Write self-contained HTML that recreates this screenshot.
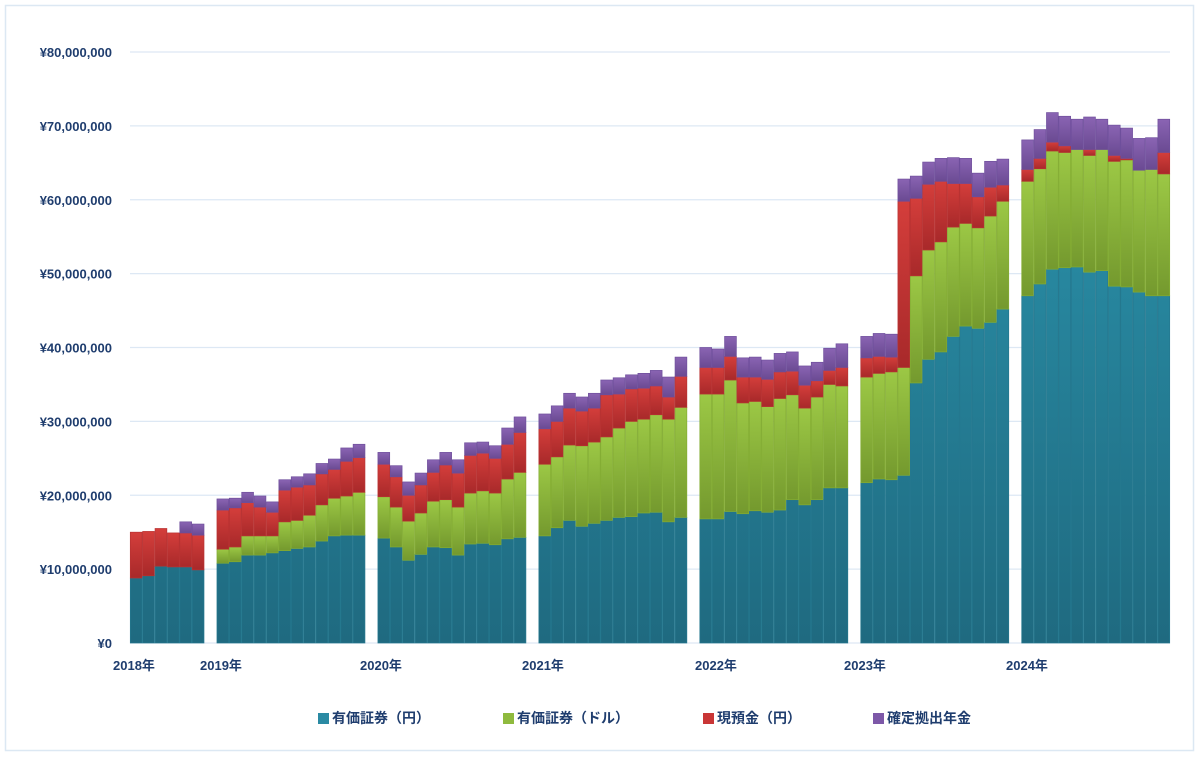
<!DOCTYPE html>
<html><head><meta charset="utf-8"><style>
body{margin:0;background:#fff;}
svg text{font-family:"Liberation Sans","Noto Sans CJK JP",sans-serif;font-weight:bold;fill:#1f3d6e;}
</style></head><body>
<svg id="chart" width="1200" height="757" xmlns="http://www.w3.org/2000/svg">
<defs>
<linearGradient id="gBlue" gradientUnits="userSpaceOnUse" x1="0" y1="100" x2="0" y2="643"><stop offset="0" stop-color="#2b94ad"/><stop offset="1" stop-color="#1f6a80"/></linearGradient>
<linearGradient id="gGreen" x1="0" y1="0" x2="0" y2="1"><stop offset="0" stop-color="#9cc845"/><stop offset="1" stop-color="#74992e"/></linearGradient>
<linearGradient id="gRed" x1="0" y1="0" x2="0" y2="1"><stop offset="0" stop-color="#d43e3b"/><stop offset="1" stop-color="#a8292a"/></linearGradient>
<linearGradient id="gPurple" x1="0" y1="0" x2="0" y2="1"><stop offset="0" stop-color="#8a64b3"/><stop offset="1" stop-color="#6a4a92"/></linearGradient>
</defs>
<rect x="5.5" y="5.5" width="1188" height="745" fill="#fff" stroke="#dce8f3" stroke-width="1.5"/>
<g id="grid"></g><g id="bars"></g><g id="axes"></g>
<g font-size="14">
<g><rect x="318" y="713" width="11" height="11" fill="#2a8aa3"/><text x="332" y="723" font-size="14">有価証券（円）</text></g>
<g><rect x="503" y="713" width="11" height="11" fill="#8fba3e"/><text x="517" y="723" font-size="14">有価証券（ドル）</text></g>
<g><rect x="703" y="713" width="11" height="11" fill="#c93636"/><text x="717" y="723" font-size="14">現預金（円）</text></g>
<g><rect x="873" y="713" width="11" height="11" fill="#7d58a8"/><text x="887" y="723" font-size="14">確定拠出年金</text></g>
</g>
</svg>
<script>
const years = ["2018年","2019年","2020年","2021年","2022年","2023年","2024年"];
const monthsPerYear = [6,12,12,12,12,12,12];
const yearLabelX = [113,200,360,522,695,844,1006];
const yTicks = [0,10,20,30,40,50,60,70,80];
const yTickLabels = ["¥0","¥10,000,000","¥20,000,000","¥30,000,000","¥40,000,000","¥50,000,000","¥60,000,000","¥70,000,000","¥80,000,000"];
// values in millions of yen
const jpySec = [8.8,9.1,10.4,10.3,10.3,9.9,
10.8,11.0,11.9,11.9,12.2,12.5,12.8,13.0,13.8,14.5,14.6,14.6,
14.2,13.0,11.2,12.0,13.0,12.9,11.9,13.4,13.5,13.3,14.1,14.3,
14.5,15.6,16.6,15.8,16.2,16.6,17.0,17.1,17.6,17.7,16.4,17.0,
16.8,16.8,17.8,17.5,17.9,17.7,18.0,19.4,18.7,19.4,21.0,21.0,
21.7,22.2,22.1,22.7,35.2,38.4,39.4,41.5,42.9,42.6,43.4,45.2,
47.0,48.6,50.6,50.8,50.9,50.2,50.4,48.3,48.2,47.5,47.0,47.0];
const usdSec = [0,0,0,0,0,0,
1.9,2.0,2.6,2.6,2.3,3.9,3.8,4.3,4.9,5.1,5.3,5.8,
5.6,5.4,5.3,5.6,6.2,6.5,6.5,6.9,7.1,7.0,8.1,8.8,
9.7,9.6,10.2,10.9,11.0,11.3,12.1,12.9,12.7,13.2,13.9,14.9,
16.9,16.9,17.8,15.0,14.8,14.3,15.1,14.2,13.1,13.9,14.0,13.8,
14.3,14.3,14.6,14.6,14.5,14.8,14.9,14.8,13.9,13.6,14.4,14.6,
15.5,15.6,16.0,15.6,15.9,15.8,16.4,16.9,17.2,16.5,17.1,16.5];
const cash = [6.2,6.0,5.1,4.6,4.6,4.7,
5.3,5.3,4.5,3.9,3.2,4.3,4.5,4.1,4.2,3.9,4.7,4.7,
4.4,4.1,3.5,3.8,3.9,4.7,4.6,5.1,5.1,4.7,4.7,5.4,
4.8,4.8,5.0,4.7,4.6,5.7,4.6,4.4,4.2,3.9,3.0,4.2,
3.6,3.6,3.2,3.5,3.3,3.7,3.6,3.2,3.1,2.2,1.9,2.5,
2.6,2.3,2.0,22.5,10.5,8.9,8.2,5.9,5.4,4.2,3.9,2.2,
1.6,1.4,1.2,0.9,0,0.8,0,0.8,0.2,0,0,2.9];
const dcPension = [0,0,0,0,1.5,1.5,
1.5,1.3,1.4,1.5,1.4,1.4,1.4,1.5,1.4,1.4,1.8,1.8,
1.6,1.5,1.8,1.6,1.7,1.7,1.8,1.7,1.5,1.7,2.2,2.1,
2.0,2.1,2.0,1.9,2.0,2.0,2.2,1.9,2.0,2.1,2.7,2.6,
2.7,2.5,2.7,2.6,2.7,2.6,2.5,2.6,2.6,2.5,3.0,3.2,
2.9,3.1,3.1,3.0,3.0,3.0,3.1,3.5,3.4,3.2,3.5,3.5,
4.0,3.9,4.0,4.0,4.1,4.4,4.1,4.1,4.1,4.3,4.3,4.5];

const NS="http://www.w3.org/2000/svg";
const X0=130, X1=1170, Y0=643, Y80=52;
const yScale = v => Y0 - v*(Y0-Y80)/80;
const totalSlots = monthsPerYear.reduce((a,b)=>a+b,0) + monthsPerYear.length-1;
const slotW = (X1-X0)/totalSlots;
const xOf = i => { let s=i, c=0; for(let y=0;y<monthsPerYear.length;y++){ if(i<c+monthsPerYear[y]){ return X0 + (i + y)*slotW; } c+=monthsPerYear[y]; } return X0; };
function mk(tag,attrs,parent){const e=document.createElementNS(NS,tag);for(const k in attrs)e.setAttribute(k,attrs[k]);parent.appendChild(e);return e;}
const grid=document.getElementById('grid'), axes=document.getElementById('axes'), bars=document.getElementById('bars');
yTicks.forEach((t,i)=>{
  const y=yScale(t);
  const l=mk('line',{x1:X0,x2:X1,y1:y,y2:y,stroke:'#dde8f4','stroke-width':1.2},grid);
  
  
  const tx=mk('text',{x:112,y:y+5,'text-anchor':'end','font-size':13},axes);
  tx.textContent=yTickLabels[i];
  
  
});
years.forEach((yr,i)=>{
  const tx=mk('text',{x:yearLabelX[i],y:670,'font-size':13},axes);
  tx.textContent=yr;
  
  
});
const series=[[jpySec,'url(#gBlue)','#25788f','bar-jpy-securities'],[usdSec,'url(#gGreen)','#84ad34','bar-usd-securities'],[cash,'url(#gRed)','#b83232','bar-cash'],[dcPension,'url(#gPurple)','#6f4f9c','bar-defined-contribution']];
for(let i=0;i<jpySec.length;i++){
  let base=0; const x=xOf(i);
  series.forEach(s=>{
    const v=s[0][i]; if(v<=0) return;
    const yT=yScale(base+v), yB=yScale(base);
    const r=mk('rect',{x:x+0.3,y:yT,width:slotW-0.6,height:yB-yT,fill:s[1],stroke:s[2],'stroke-width':0.7},bars);
    
    
    base+=v;
  });
}
</script>
</body></html>
